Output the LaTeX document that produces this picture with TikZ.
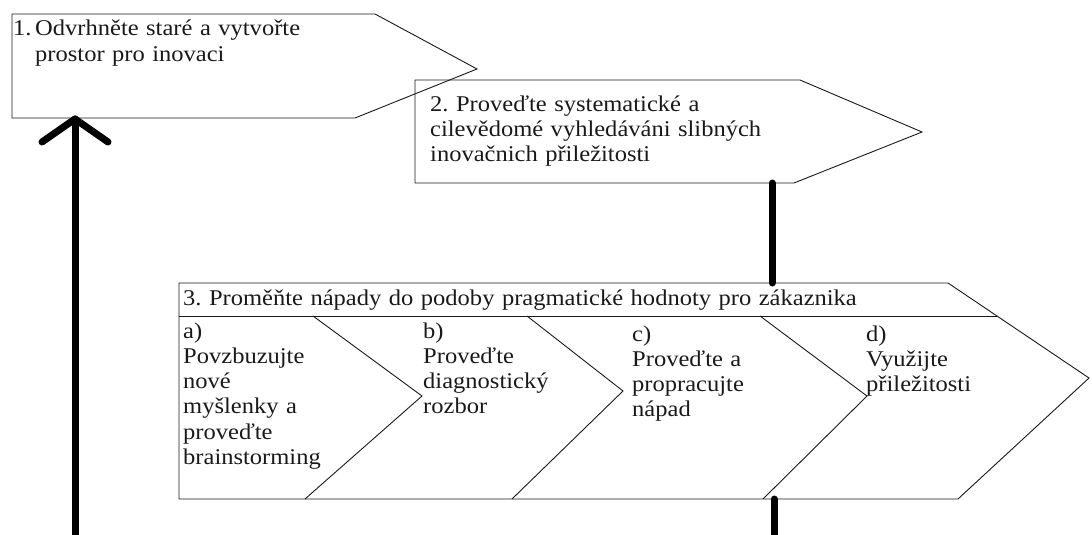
\documentclass[tikz,border=0pt]{standalone}
\usepackage{fontspec}
\setmainfont{Liberation Serif}[FakeStretch=1.09]
\usetikzlibrary{calc}
\newcommand{\diagfont}{\fontsize{22.5}{25.3}\selectfont\frenchspacing}
\tikzset{
  boxline/.style={line width=0.9pt, draw=black!90, line join=miter},
  conn/.style={line width=7pt, line cap=round, line join=round, draw=black},
  txt/.style={anchor=base west, inner sep=0pt, align=left, text width=#1, font=\diagfont, text=black!90},
  txt/.default=200pt
}
\begin{document}
\frenchspacing
\begin{tikzpicture}[x=1pt,y=-1pt]
\useasboundingbox (0,0) rectangle (1092,535);
% ---- box 1
\draw[boxline] (12,14) -- (375,14) -- (477,69) -- (355,118) -- (12,118) -- cycle;
\node[txt=440pt] (t1) at (13,36) {\makebox[22pt][l]{1.}Odvrhněte staré a vytvořte\\\hspace*{22pt}prostor pro inovaci};
% ---- box 2
\draw[boxline] (415,80) -- (800,80) -- (922,132) -- (794,183) -- (415,183) -- cycle;
\node[txt=440pt] (t2) at (430,111) {2. Proveďte systematické a\\cilevědomé vyhledáváni slibných\\inovačnich přiležitosti};
% ---- box 3
\draw[boxline] (179,283) -- (948,283) -- (1089,378) -- (958,499) -- (179,499) -- cycle;
\draw[boxline] (179,316) -- (997,316);
\draw[boxline] (313,316) -- (422,396) -- (305,499);
\draw[boxline] (527,316) -- (623,391) -- (512,499);
\draw[boxline] (760,316) -- (867,396) -- (763,499);
\node[txt=800pt] (t3) at (183,305) {3. Proměňte nápady do podoby pragmatické hodnoty pro zákaznika};
\node[txt=160pt] (ta) at (183,338) {a)\\Povzbuzujte\\nové\\myšlenky a\\proveďte\\brainstorming};
\node[txt=160pt] (tb) at (423,338) {b)\\Proveďte\\diagnostický\\rozbor};
\node[txt=160pt] (tc) at (632,341) {c)\\Proveďte a\\propracujte\\nápad};
\node[txt=160pt] (td) at (866,341) {d)\\Využijte\\přiležitosti};
% ---- connectors
\coordinate (b2s) at (772,183);
\coordinate (b3n) at (772,283);
\coordinate (b3s) at (774,499);
\coordinate (b3out) at (774,540);
\coordinate (loopin) at (75,540);
\coordinate (b1s) at (75,119);
\draw[conn] (b2s) -- (b3n);
\draw[conn] (b3s) -- (b3out);
\draw[conn] (loopin) -- (b1s);
\draw[conn] ($(b1s)+(-33,23)$) -- (b1s) -- ($(b1s)+(33,23)$);
\end{tikzpicture}
\end{document}
